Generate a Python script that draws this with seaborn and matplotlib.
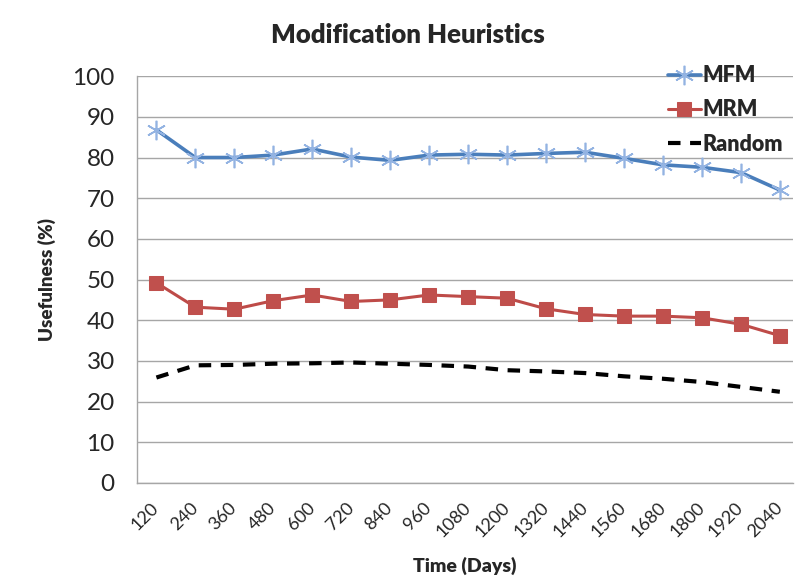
import matplotlib
matplotlib.use("Agg")
import matplotlib.pyplot as plt
import seaborn as sns
import pandas as pd
from matplotlib.ticker import FixedLocator, NullFormatter

days = [120, 240, 360, 480, 600, 720, 840, 960, 1080, 1200, 1320, 1440, 1560, 1680, 1800, 1920, 2040]
mfm = [86.8, 80.0, 80.0, 80.6, 82.1, 80.1, 79.3, 80.6, 80.8, 80.6, 81.0, 81.3, 79.8, 78.2, 77.6, 76.3, 72.0]
mrm = [49.2, 43.2, 42.7, 44.8, 46.2, 44.6, 45.0, 46.2, 45.8, 45.4, 42.8, 41.4, 41.0, 41.0, 40.6, 39.0, 36.2]
rnd = [25.9, 28.9, 29.0, 29.3, 29.4, 29.6, 29.3, 29.0, 28.6, 27.7, 27.4, 27.0, 26.2, 25.6, 24.8, 23.6, 22.4]
series_names = ["MFM", "MRM", "Random"]
y_ticks = list(range(0, 101, 10))

df = pd.DataFrame({
    "Time (Days)": days * 3,
    "Usefulness (%)": mfm + mrm + rnd,
    "Series": [series_names[0]] * len(days) + [series_names[1]] * len(days) + [series_names[2]] * len(days),
})

sns.set_style("white")
plt.rcParams["font.family"] = ["Lato", "DejaVu Sans"]

fig = plt.figure(figsize=(7.96, 5.86), dpi=100)
ax = fig.add_axes([0.172, 0.176, 0.824, 0.694])

colors = {"MFM": "#4a7ebb", "MRM": "#be4b48", "Random": "#000000"}
sns.lineplot(data=df, x="Time (Days)", y="Usefulness (%)", hue="Series",
             palette=colors, ax=ax, legend=False, sort=False)
lines = ax.get_lines()
l_mfm, l_mrm, l_rnd = lines[0], lines[1], lines[2]
l_mfm.set_linewidth(2.6)
l_mfm.set_marker((6, 2, 0))
l_mfm.set_markersize(14)
l_mfm.set_markeredgecolor("#93b3e2")
l_mfm.set_markeredgewidth(1.2)
l_mrm.set_linewidth(2.2)
l_mrm.set_marker("s")
l_mrm.set_markersize(10)
l_mrm.set_markerfacecolor("#c0504d")
l_mrm.set_markeredgecolor("#c0504d")
l_rnd.set_linewidth(3)
l_rnd.set_linestyle((0, (3.0, 2.3)))

step = days[1] - days[0]
ax.set_xlim(days[0] - step / 2, days[-1] + step / 2 - 20)
ax.set_ylim(0, 100)
ax.set_yticks(y_ticks)
ax.set_yticklabels([str(v) for v in y_ticks], fontsize=17.5)
ax.set_xticks(days)
ax.set_xticklabels([str(d) for d in days], fontsize=13, rotation=45,
                   ha="right", va="center", rotation_mode="anchor")
ax.tick_params(axis="x", which="major", length=0, pad=16)
ax.xaxis.set_minor_locator(FixedLocator([d - step / 2 for d in days]))
ax.xaxis.set_minor_formatter(NullFormatter())
ax.tick_params(axis="x", which="minor", length=6, color="#a6a6a6", width=1, direction="out")
ax.tick_params(axis="y", length=8, color="#a6a6a6", width=1, direction="out", pad=8)

ax.grid(axis="y", color="#a6a6a6", linewidth=1)
ax.set_axisbelow(True)
for s in ["top", "right"]:
    ax.spines[s].set_visible(False)
for s in ["left", "bottom"]:
    ax.spines[s].set_color("#a6a6a6")
    ax.spines[s].set_linewidth(1)

ax.set_xlabel("Time (Days)", fontsize=14, fontweight="heavy", labelpad=12)
ax.set_ylabel("Usefulness (%)", fontsize=13.5, fontweight="heavy", labelpad=12)
fig.text(0.512, 0.94, "Modification Heuristics", ha="center", va="center",
         fontsize=18.5, fontweight="heavy")

leg = ax.legend(handles=[l_mfm, l_mrm, l_rnd], labels=series_names,
                loc="upper right", bbox_to_anchor=(1.015, 1.075), frameon=False,
                prop={"size": 15.5, "weight": "heavy"}, handlelength=1.5,
                handletextpad=0.1, labelspacing=0.62)

fig.savefig("out.png", dpi=100)
